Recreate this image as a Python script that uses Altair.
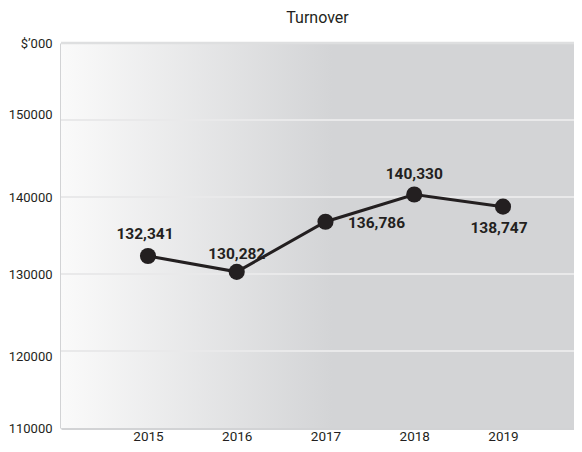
import altair as alt
import pandas as pd

years = [2015, 2016, 2017, 2018, 2019]
turnover = [132341, 130282, 136786, 140330, 138747]
labels = ["132,341", "130,282", "136,786", "140,330", "138,747"]
grid_values = [120000, 130000, 140000, 150000]
y_ticks = [110000, 120000, 130000, 140000, 150000, 160000]

df = pd.DataFrame({"year": years, "value": turnover, "label": labels})
grid_df = pd.DataFrame({"g": grid_values})
top_df = pd.DataFrame({"g": [160000]})
bg_df = pd.DataFrame({"a": [0]})

FONT = "Roboto, Liberation Sans, sans-serif"
W, H = 513, 385

xs = alt.Scale(domain=[2014.02, 2019.80], nice=False, zero=False)
ys = alt.Scale(domain=[110000, 160000], nice=False, zero=False)

x_enc = alt.X("year:Q", scale=xs,
              axis=alt.Axis(values=years, format="d", title=None, grid=False,
                            ticks=False, tickSize=0, domainColor="#d2d3d5", domainWidth=3,
                            labelFont=FONT, labelFontSize=13.5, labelColor="#231f20",
                            labelBaseline="alphabetic", labelPadding=12))
y_enc = alt.Y("value:Q", scale=ys,
              axis=alt.Axis(values=y_ticks, title=None, grid=False, ticks=False, tickSize=0,
                            domainColor="#d2d3d5", domainWidth=3,
                            labelExpr="datum.value == 160000 ? \"$\u2019000\" : datum.value",
                            labelFont=FONT, labelFontSize=13, labelColor="#231f20",
                            labelPadding=9,
                            labelOffset={"condition": [
                                {"test": "datum.value == 150000", "value": -6},
                                {"test": "datum.value == 120000", "value": 5}],
                                "value": 0}))

bg = alt.Chart(bg_df).mark_rect(
    fill=alt.LinearGradient(gradient="linear", x1=0, x2=1, y1=0, y2=0,
                            stops=[alt.GradientStop(color="#fafafa", offset=0),
                                   alt.GradientStop(color="#d3d4d6", offset=0.53),
                                   alt.GradientStop(color="#d3d4d6", offset=1)])
).encode(x=alt.value(0), x2=alt.value(W), y=alt.value(0), y2=alt.value(H))

grid = alt.Chart(grid_df).mark_rule(color="#e9e9ea", strokeWidth=2).encode(
    y=alt.Y("g:Q", scale=ys, title=None))
top = alt.Chart(top_df).mark_rule(color="#dedfe0", strokeWidth=2.5).encode(
    y=alt.Y("g:Q", scale=ys, title=None))

base = alt.Chart(df)
line = base.mark_line(color="#231f20", strokeWidth=3).encode(x=x_enc, y=y_enc)
pts = base.mark_circle(color="#231f20", opacity=1, size=260).encode(x=x_enc, y=y_enc)

def lab(yr, dx, dy):
    return base.transform_filter(alt.datum.year == yr).mark_text(
        font=FONT, fontSize=15.5, fontWeight="bold", color="#231f20",
        dx=dx, dy=dy, align="center", baseline="middle").encode(
        x=alt.X("year:Q", scale=xs), y=alt.Y("value:Q", scale=ys), text="label:N")

texts = [lab(2015, -3, -22), lab(2016, 0, -18), lab(2017, 51, 1),
         lab(2018, 0, -20), lab(2019, -4, 21)]

chart = alt.layer(bg, grid, top, line, pts, *texts).properties(
    width=W, height=H,
    title=alt.TitleParams("Turnover", font=FONT,
                          fontSize=16, fontWeight="normal", color="#231f20",
                          anchor="middle", offset=11),
    autosize=alt.AutoSizeParams(type="none"),
    padding={"left": 53, "top": 35, "right": 0, "bottom": 16},
).configure_view(stroke=None).configure(background="white")

chart.save("out.html", embed_options={"renderer": "svg", "actions": False})
